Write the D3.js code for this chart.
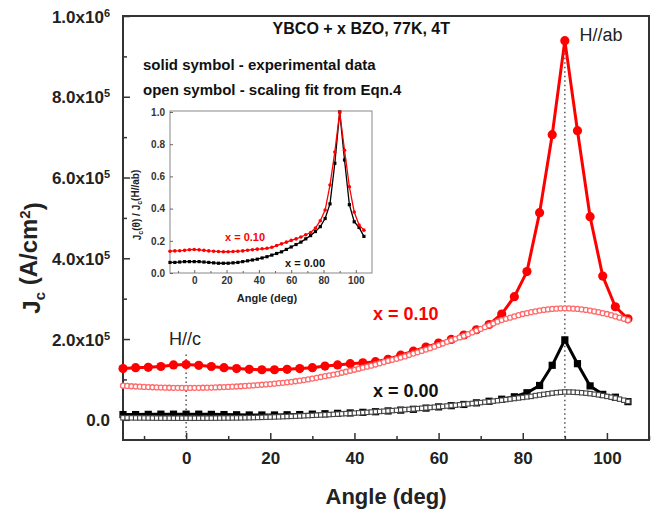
<!DOCTYPE html>
<html>
  <head>
    <meta charset="utf-8">
    <title>Jc vs angle, YBCO + x BZO</title>
    <style>
      body { margin: 0; background: #fff; }
      svg { font-family: "Liberation Sans", Arial, sans-serif; }
      .tick text { font-weight: bold; }
    </style>
    <script src="https://unpkg.com/d3@7/dist/d3.min.js"></script>
  </head>
  <body>
    <script>
      // values in units of 1e5 A/cm^2
      const expAngles = [-15,-12,-9,-6,-3,0,3,6,9,12,15,18,21,24,27,30,33,36,39,42,45,48,51,54,57,60,63,66,69,72,75,78,81,84,87,90,93,96,99,102,105];
      const exp010 = [1.27,1.29,1.30,1.32,1.36,1.37,1.35,1.32,1.29,1.27,1.25,1.24,1.24,1.25,1.27,1.29,1.33,1.36,1.39,1.41,1.44,1.50,1.60,1.70,1.80,1.90,1.99,2.10,2.23,2.36,2.62,3.05,3.67,5.13,7.06,9.39,7.16,5.03,3.56,2.80,2.50];
      const exp000 = [0.13,0.13,0.135,0.14,0.14,0.14,0.14,0.135,0.13,0.125,0.12,0.12,0.12,0.125,0.13,0.14,0.15,0.16,0.17,0.185,0.20,0.22,0.24,0.26,0.29,0.32,0.35,0.38,0.42,0.46,0.51,0.57,0.67,0.85,1.35,1.98,1.39,0.84,0.63,0.56,0.45];

      // scaling fit, one value per degree from -15 to 105
      const fitAngles = d3.range(-15, 106);
      const fit010 = [0.845,0.838,0.831,0.825,0.82,0.815,0.81,0.806,0.802,0.799,0.796,0.794,0.792,0.791,0.79,0.79,0.79,0.791,0.792,0.794,0.796,0.799,0.802,0.806,0.81,0.815,0.82,0.825,0.831,0.838,0.845,0.852,0.86,0.868,0.876,0.885,0.895,0.906,0.917,0.928,0.94,0.955,0.97,0.985,1.00,1.02,1.04,1.06,1.08,1.10,1.12,1.14,1.165,1.19,1.215,1.24,1.265,1.29,1.315,1.34,1.37,1.40,1.43,1.46,1.485,1.51,1.54,1.57,1.605,1.64,1.67,1.705,1.74,1.775,1.81,1.85,1.89,1.93,1.97,2.005,2.04,2.08,2.12,2.165,2.21,2.25,2.295,2.34,2.385,2.43,2.47,2.50,2.53,2.56,2.59,2.62,2.64,2.665,2.685,2.705,2.72,2.733,2.745,2.752,2.758,2.76,2.758,2.752,2.745,2.733,2.72,2.705,2.685,2.665,2.64,2.62,2.59,2.56,2.53,2.50,2.47];
      const fit000 = [0.05,0.05,0.048,0.047,0.046,0.045,0.044,0.043,0.042,0.041,0.04,0.04,0.04,0.04,0.04,0.04,0.04,0.04,0.04,0.04,0.04,0.041,0.042,0.043,0.044,0.045,0.046,0.047,0.048,0.05,0.052,0.055,0.058,0.061,0.064,0.067,0.07,0.074,0.078,0.082,0.086,0.09,0.095,0.10,0.105,0.11,0.115,0.12,0.125,0.13,0.136,0.142,0.148,0.154,0.16,0.166,0.172,0.178,0.185,0.192,0.199,0.206,0.213,0.22,0.228,0.236,0.244,0.252,0.26,0.268,0.277,0.286,0.295,0.304,0.313,0.322,0.332,0.342,0.352,0.362,0.372,0.383,0.394,0.405,0.416,0.427,0.438,0.45,0.462,0.474,0.486,0.50,0.513,0.527,0.54,0.554,0.567,0.58,0.60,0.615,0.63,0.645,0.66,0.672,0.682,0.69,0.688,0.684,0.678,0.67,0.66,0.648,0.634,0.618,0.60,0.58,0.56,0.537,0.512,0.485,0.455];

      const xTicks = [0, 20, 40, 60, 80, 100];
      const xMinor = [-10, 10, 30, 50, 70, 90, 110];
      const yTicks = [0, 2e5, 4e5, 6e5, 8e5, 1e6];
      const yMinor = [1e5, 3e5, 5e5, 7e5, 9e5];
      const insetYTicks = [0, 0.2, 0.4, 0.6, 0.8, 1.0];

      const width = 656, height = 513;
      const margin = {top: 16, right: 7, bottom: 73, left: 123};
      const red = '#ff0000', pink = '#ff6a6a';

      const svg = d3.select('body').append('svg')
        .attr('width', width).attr('height', height);

      const x = d3.scaleLinear().domain([-15, 110]).range([margin.left, width - margin.right]);
      const y = d3.scaleLinear().domain([-0.5e5, 1e6]).range([height - margin.bottom, margin.top]);

      const toPts = (angles, vals) => angles.map((a, i) => ({a: a, v: vals[i] * 1e5}));
      const e010 = toPts(expAngles, exp010), e000 = toPts(expAngles, exp000);
      const f010 = toPts(fitAngles, fit010), f000 = toPts(fitAngles, fit000);

      // guide lines H//c and H//ab
      svg.append('line').attr('x1', x(0)).attr('x2', x(0))
        .attr('y1', y(1.62e5)).attr('y2', y(-0.5e5))
        .attr('stroke', '#555').attr('stroke-width', 1.5).attr('stroke-dasharray', '1.5,3');
      svg.append('line').attr('x1', x(90)).attr('x2', x(90))
        .attr('y1', y(9.3e5)).attr('y2', y(-0.5e5))
        .attr('stroke', '#555').attr('stroke-width', 1.5).attr('stroke-dasharray', '1.5,3');

      // axes, ticks inward
      const gx = svg.append('g').attr('transform', `translate(0,${y.range()[0]})`)
        .call(d3.axisBottom(x).tickValues(xTicks).tickSize(-7).tickPadding(12));
      svg.append('g').attr('transform', `translate(0,${y.range()[0]})`)
        .call(d3.axisBottom(x).tickValues(xMinor).tickSize(-4).tickFormat(''));
      const gy = svg.append('g').attr('transform', `translate(${margin.left},0)`)
        .call(d3.axisLeft(y).tickValues(yTicks).tickSize(-7).tickPadding(13).tickFormat(''));
      svg.append('g').attr('transform', `translate(${margin.left},0)`)
        .call(d3.axisLeft(y).tickValues(yMinor).tickSize(-4).tickFormat(''));
      svg.selectAll('.domain').remove();
      svg.selectAll('.tick line').attr('stroke', '#333').attr('stroke-width', 1.5);
      gx.selectAll('text').style('font-size', '17px').attr('fill', '#222');

      gy.selectAll('.tick text').each(function (d) {
        const t = d3.select(this).style('font-size', '17px').attr('fill', '#222').attr('dy', '0.36em');
        if (d === 0) { t.text('0.0'); return; }
        const p = Math.floor(Math.log10(d) + 1e-9);
        t.text((d / Math.pow(10, p)).toFixed(1) + 'x10');
        t.append('tspan').attr('dy', '-0.55em').style('font-size', '11px').text(p);
      });

      svg.append('rect')
        .attr('x', margin.left).attr('y', margin.top)
        .attr('width', width - margin.right - margin.left)
        .attr('height', y.range()[0] - margin.top)
        .attr('fill', 'none').attr('stroke', '#333').attr('stroke-width', 2);

      // experimental data: solid symbols
      const line = d3.line().x((d) => x(d.a)).y((d) => y(d.v));
      svg.append('path').datum(e010).attr('d', line)
        .attr('fill', 'none').attr('stroke', red).attr('stroke-width', 3);
      svg.append('g').selectAll('circle').data(e010).join('circle')
        .attr('cx', (d) => x(d.a)).attr('cy', (d) => y(d.v)).attr('r', 4.6).attr('fill', red);

      svg.append('path').datum(e000).attr('d', line)
        .attr('fill', 'none').attr('stroke', '#000').attr('stroke-width', 3);
      svg.append('g').selectAll('rect').data(e000).join('rect')
        .attr('x', (d) => x(d.a) - 3.6).attr('y', (d) => y(d.v) - 3.6)
        .attr('width', 7.2).attr('height', 7.2).attr('fill', '#000');

      // scaling fit: open symbols
      svg.append('g').selectAll('circle').data(f010).join('circle')
        .attr('cx', (d) => x(d.a)).attr('cy', (d) => y(d.v)).attr('r', 2.5)
        .attr('fill', '#fff').attr('stroke', pink).attr('stroke-width', 1.3);
      svg.append('g').selectAll('rect').data(f000).join('rect')
        .attr('x', (d) => x(d.a) - 2.2).attr('y', (d) => y(d.v) - 2.2)
        .attr('width', 4.4).attr('height', 4.4)
        .attr('fill', '#fff').attr('stroke', '#444').attr('stroke-width', 1.1);

      // labels
      svg.append('text').attr('x', 185).attr('y', 345).attr('text-anchor', 'middle')
        .style('font-size', '18px').attr('fill', '#222').text('H//c');
      svg.append('text').attr('x', 601).attr('y', 41).attr('text-anchor', 'middle')
        .style('font-size', '18px').attr('fill', '#222').text('H//ab');
      svg.append('text').attr('x', 373).attr('y', 320)
        .style('font-size', '18px').style('font-weight', 'bold').attr('fill', red).text('x = 0.10');
      svg.append('text').attr('x', 373).attr('y', 397)
        .style('font-size', '18px').style('font-weight', 'bold').attr('fill', '#111').text('x = 0.00');

      svg.append('text').attr('x', 450).attr('y', 34).attr('text-anchor', 'end')
        .style('font-size', '16px').style('font-weight', 'bold').attr('fill', '#111')
        .text('YBCO + x BZO, 77K, 4T');
      svg.append('text').attr('x', 143).attr('y', 70)
        .style('font-size', '15px').style('font-weight', 'bold').attr('fill', '#111')
        .text('solid symbol - experimental data');
      svg.append('text').attr('x', 143).attr('y', 95)
        .style('font-size', '15px').style('font-weight', 'bold').attr('fill', '#111')
        .text('open symbol - scaling fit from Eqn.4');

      svg.append('text').attr('x', (margin.left + width - margin.right) / 2).attr('y', 504)
        .attr('text-anchor', 'middle').style('font-size', '22px').style('font-weight', 'bold')
        .attr('fill', '#222').text('Angle (deg)');

      const yl = svg.append('text').attr('transform', 'translate(40,258) rotate(-90)')
        .attr('text-anchor', 'middle').style('font-size', '24px').style('font-weight', 'bold')
        .attr('fill', '#222');
      yl.append('tspan').text('J');
      yl.append('tspan').attr('dy', '0.3em').style('font-size', '15px').text('c');
      yl.append('tspan').attr('dy', '-0.3em').text(' (A/cm');
      yl.append('tspan').attr('dy', '-0.5em').style('font-size', '15px').text('2');
      yl.append('tspan').attr('dy', '0.5em').text(')');

      // ---- inset: normalised Jc ----
      const xi = d3.scaleLinear().domain([-15, 110]).range([170, 372]);
      const yi = d3.scaleLinear().domain([0, 1.0]).range([273, 112]);
      const peak010 = d3.max(exp010), peak000 = d3.max(exp000);
      const n010 = expAngles.map((a, i) => ({a: a, v: exp010[i] / peak010}));
      const n000 = expAngles.map((a, i) => ({a: a, v: exp000[i] / peak000}));

      const inset = svg.append('g');
      inset.append('rect').attr('x', 170).attr('y', 111).attr('width', 202).attr('height', 162)
        .attr('fill', '#fff').attr('stroke', '#888').attr('stroke-width', 1);

      inset.append('g').attr('transform', 'translate(0,273)')
        .call(d3.axisBottom(xi).tickValues(xTicks).tickSize(-3).tickPadding(4));
      inset.append('g').attr('transform', 'translate(0,273)')
        .call(d3.axisBottom(xi).tickValues(xMinor.slice(0, 6)).tickSize(-2).tickFormat(''));
      inset.append('g').attr('transform', 'translate(170,0)')
        .call(d3.axisLeft(yi).tickValues(insetYTicks).tickSize(-3).tickPadding(5).tickFormat(d3.format('.1f')));
      inset.selectAll('.domain').remove();
      inset.selectAll('.tick line').attr('stroke', '#666').attr('stroke-width', 1);
      inset.selectAll('.tick text').style('font-size', '10px').attr('fill', '#333');

      const iline = d3.line().x((d) => xi(d.a)).y((d) => yi(d.v));
      inset.append('path').datum(n000).attr('d', iline)
        .attr('fill', 'none').attr('stroke', '#000').attr('stroke-width', 1.3);
      inset.append('g').selectAll('rect').data(n000).join('rect')
        .attr('x', (d) => xi(d.a) - 1.6).attr('y', (d) => yi(d.v) - 1.6)
        .attr('width', 3.2).attr('height', 3.2).attr('fill', '#000');
      inset.append('path').datum(n010).attr('d', iline)
        .attr('fill', 'none').attr('stroke', red).attr('stroke-width', 1.3);
      inset.append('g').selectAll('circle').data(n010).join('circle')
        .attr('cx', (d) => xi(d.a)).attr('cy', (d) => yi(d.v)).attr('r', 1.8).attr('fill', red);

      inset.append('text').attr('x', 225).attr('y', 241)
        .style('font-size', '11px').style('font-weight', 'bold').attr('fill', red).text('x = 0.10');
      inset.append('text').attr('x', 285).attr('y', 267)
        .style('font-size', '11px').style('font-weight', 'bold').attr('fill', '#111').text('x = 0.00');
      inset.append('text').attr('x', 267).attr('y', 302).attr('text-anchor', 'middle')
        .style('font-size', '11px').style('font-weight', 'bold').attr('fill', '#222').text('Angle (deg)');

      const il = inset.append('text').attr('transform', 'translate(141,205) rotate(-90)')
        .attr('text-anchor', 'middle').style('font-size', '10px').style('font-weight', 'bold')
        .attr('fill', '#222');
      il.append('tspan').text('J');
      il.append('tspan').attr('dy', '0.3em').style('font-size', '7px').text('c');
      il.append('tspan').attr('dy', '-0.3em').text('(θ) / J');
      il.append('tspan').attr('dy', '0.3em').style('font-size', '7px').text('c');
      il.append('tspan').attr('dy', '-0.3em').text('(H//ab)');
    </script>
  </body>
</html>
